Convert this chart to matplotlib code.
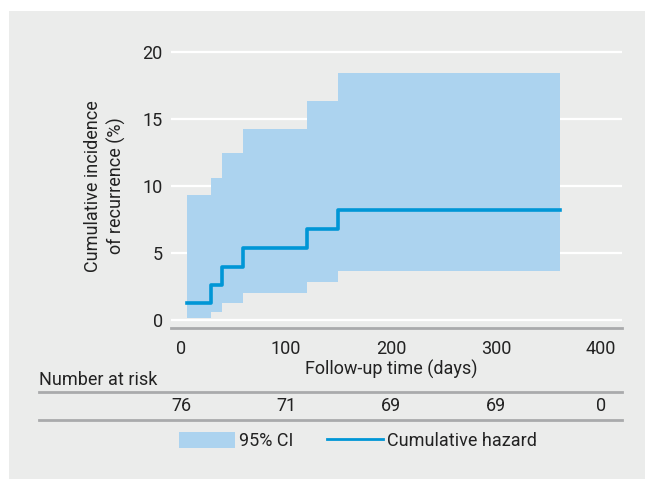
import numpy as np
import matplotlib
matplotlib.use('Agg')
import matplotlib.pyplot as plt
from matplotlib.patches import Patch
from matplotlib.lines import Line2D
from matplotlib.transforms import blended_transform_factory

### Data
times = [6, 29, 39, 59, 120, 150, 361]          # step start times, last = end of curve
hazard = [1.3, 2.6, 3.95, 5.36, 6.78, 8.2]     # cumulative incidence (%)
ci_upper = [9.3, 10.6, 12.45, 14.25, 16.35, 18.4]
ci_lower = [0.17, 0.62, 1.25, 2.0, 2.82, 3.64]
risk_times = [0, 100, 200, 300, 400]
at_risk = [76, 71, 69, 69, 0]
yticks = [0, 5, 10, 15, 20]

### Style
plt.rcParams['font.family'] = ['Roboto', 'DejaVu Sans']
panel = '#ebeceb'
ci_col = '#acd3ef'
line_col = '#0096d6'
rule_col = '#a9aaac'
txt_col = '#222222'
fs = 13

fig = plt.figure(figsize=(6.45, 4.79), dpi=100)
fig.patch.set_facecolor('white')
# grey panel, white margin on top and left only
fig.patches.append(plt.Rectangle((9/645, 0), 1, 1 - 11/479, transform=fig.transFigure,
                                 facecolor=panel, edgecolor='none', zorder=-10))

ax = fig.add_axes([171/645, 1 - 328/479, 451/645, (328 - 49.3)/479])
ax.set_facecolor(panel)
ax.set_xlim(-9.5, 420)
ax.set_ylim(-0.6, 20.2)

for y in yticks:
    ax.axhline(y, color='white', lw=1.6, zorder=0)

# step curves
ux = times
uu = ci_upper + [ci_upper[-1]]
ll = ci_lower + [ci_lower[-1]]
hh = hazard + [hazard[-1]]
ax.fill_between(ux, ll, uu, step='post', color=ci_col, lw=0, zorder=1)
ax.step(ux, hh, where='post', color=line_col, lw=2.6, zorder=2)

for s in ['top', 'right', 'left']:
    ax.spines[s].set_visible(False)
ax.spines['bottom'].set_color(rule_col)
ax.spines['bottom'].set_linewidth(2)

ax.set_xticks(risk_times)
ax.set_yticks(yticks)
ax.tick_params(axis='both', length=0, labelsize=fs, colors=txt_col)
ax.tick_params(axis='x', pad=9)
ax.tick_params(axis='y', pad=6)

fig.text(105/645, 1 - 186/479, 'Cumulative incidence\nof recurrence (%)', fontsize=fs,
         color=txt_col, rotation=90, ha='center', va='center', linespacing=1.35,
         multialignment='center')
ax.set_xlabel('Follow-up time (days)', fontsize=fs, color=txt_col, labelpad=2)
ax.xaxis.set_label_coords((391 - 171) / 451, -0.115)

### Number at risk table
fig.text(39/645, 1 - 380/479, 'Number at risk', fontsize=fs, color=txt_col,
         ha='left', va='center')
for yy in [391.5, 419.5]:
    fig.add_artist(Line2D([39/645, 622/645], [1 - yy/479] * 2, color=rule_col, lw=2,
                          transform=fig.transFigure))
tr = blended_transform_factory(ax.transData, fig.transFigure)
for t, n in zip(risk_times, at_risk):
    fig.text(t, 1 - 406/479, str(n), transform=tr, fontsize=fs, color=txt_col,
             ha='center', va='center')

### Legend
handles = [Patch(facecolor=ci_col, edgecolor='none'),
           Line2D([], [], color=line_col, lw=2)]
fig.legend(handles, ['95% CI', 'Cumulative hazard'], loc='center left',
           bbox_to_anchor=(179/645, 1 - 441/479), ncol=2, frameon=False,
           fontsize=fs, handlelength=3.1, handleheight=1.0, handletextpad=0.2,
           columnspacing=1.9, borderpad=0, borderaxespad=0, labelcolor=txt_col)

fig.savefig('out.png', dpi=100, facecolor=fig.get_facecolor())
